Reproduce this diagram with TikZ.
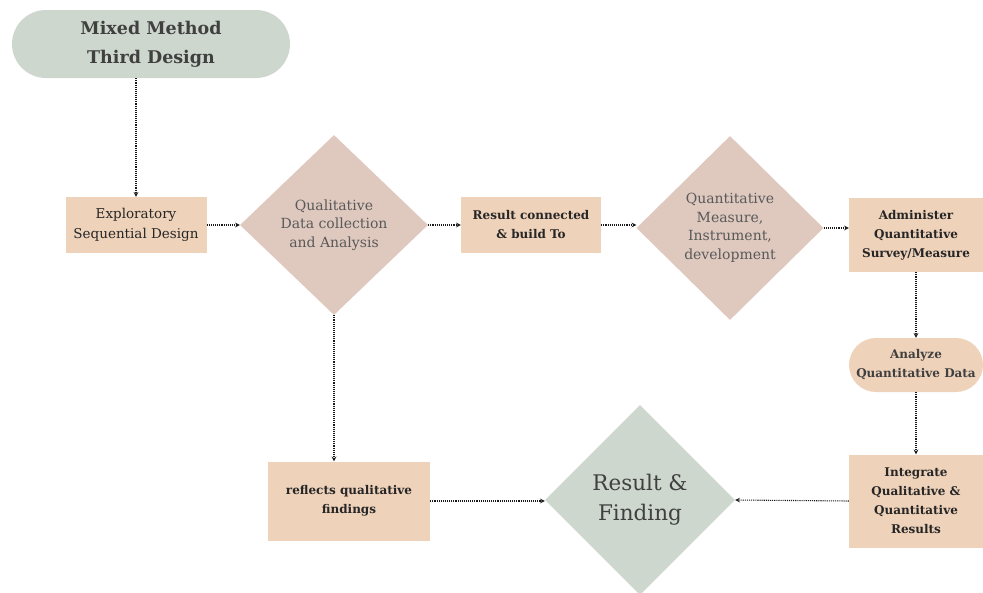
\documentclass[tikz,border=0pt]{standalone}
\usepackage{fontspec}
\setmainfont{DejaVu Serif}
\usetikzlibrary{shapes.geometric, arrows}
\definecolor{sage}{HTML}{CDD7CD}
\definecolor{peach}{HTML}{EFD2BA}
\definecolor{dusty}{HTML}{DFC9BF}
\tikzstyle{pill} = [rectangle, rounded corners=27pt, text centered, fill=sage, font=\fontsize{17.5}{29}\selectfont\bfseries, text=black!75, inner sep=0pt]
\tikzstyle{stepbox} = [rectangle, text centered, fill=peach, font=\fontsize{13.5}{19.5}\selectfont, text=black!85, inner sep=0pt]
\tikzstyle{boldbox} = [stepbox, font=\fontsize{12}{19}\selectfont\bfseries]
\tikzstyle{decision} = [diamond, text centered, fill=dusty, font=\fontsize{14}{18.5}\selectfont, text=black!65, inner sep=0pt]
\tikzstyle{arrow} = [densely dotted, line width=1.1pt, black!90, ->, >=stealth]
\begin{document}
\begin{tikzpicture}[x=1pt, y=-1pt]
    \useasboundingbox (0,0) rectangle (983,592);
    \node [pill, minimum width=278pt, minimum height=68pt, rounded corners=34pt, align=center] at (151,44) (title) {Mixed Method\\Third Design};
    \node [stepbox, minimum width=141pt, minimum height=56pt, align=center] at (136,225) (explor) {Exploratory\\Sequential Design};
    \node [decision, minimum width=188pt, minimum height=180pt, align=center] at (334,225) (qual) {Qualitative\\Data collection\\and Analysis};
    \node [boldbox, minimum width=140pt, minimum height=56pt, align=center] at (531,225) (connect) {Result connected\\\& build To};
    \node [decision, minimum width=187pt, minimum height=184pt, align=center] at (730,228) (quant) {Quantitative\\Measure,\\Instrument,\\development};
    \node [boldbox, minimum width=134pt, minimum height=74pt, align=center] at (916,235) (admin) {Administer\\Quantitative\\Survey/Measure};
    \node [pill, fill=peach, font=\fontsize{12}{19}\selectfont\bfseries, minimum width=134pt, minimum height=54pt, align=center] at (916,365) (analyze) {Analyze\\Quantitative Data};
    \node [boldbox, minimum width=134pt, minimum height=93pt, align=center] at (916,501) (integrate) {Integrate\\Qualitative \&\\Quantitative\\Results};
    \node [decision, fill=sage, font=\fontsize{21.5}{30}\selectfont, text=black!75, minimum width=190pt, minimum height=190pt, align=center] at (640,500) (finding) {Result \&\\Finding};
    \node [boldbox, minimum width=162pt, minimum height=79pt, align=center] at (349,501) (reflect) {reflects qualitative\\findings};
    \draw [arrow] (explor.north |- title.south) -- (explor.north);
    \draw [arrow] (explor) -- (qual);
    \draw [arrow] (qual) -- (connect);
    \draw [arrow] (connect) -- (quant.west |- connect.east);
    \draw [arrow] (quant.east) -- (quant.east -| admin.west);
    \draw [arrow] (admin) -- (analyze);
    \draw [arrow] (analyze) -- (integrate);
    \draw [arrow] (integrate.west) -- (finding.east);
    \draw [arrow] (qual.south) -- (qual.south |- reflect.north);
    \draw [arrow] (reflect.east) -- (reflect.east -| finding.west);
\end{tikzpicture}
\end{document}
